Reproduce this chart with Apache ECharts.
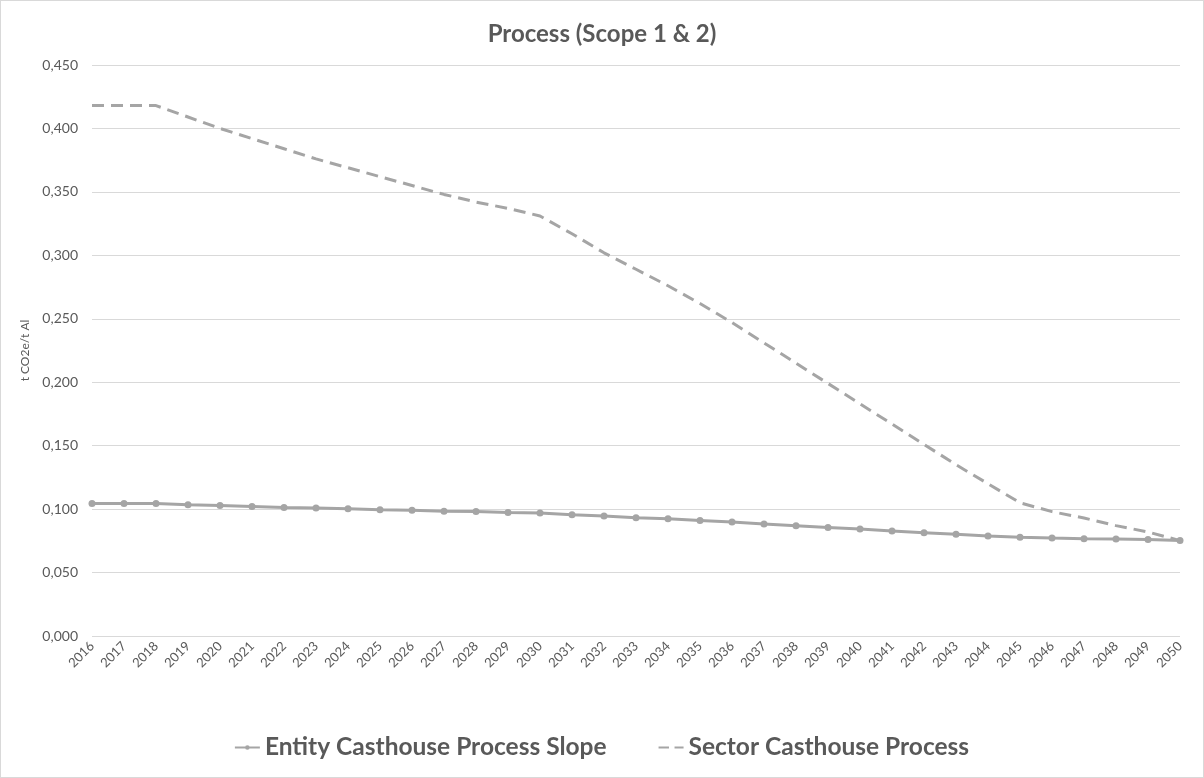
<!DOCTYPE html>
<html>
<head>
<meta charset="utf-8">
<script src="https://cdn.jsdelivr.net/npm/echarts@6/dist/echarts.min.js"></script>
<style>
  html, body { margin: 0; padding: 0; background: #fff; }
  #chart { width: 1204px; height: 778px; box-sizing: border-box; border: 1px solid #d9d9d9; }
</style>
</head>
<body>
<div id="chart"></div>
<script>
// Years on the horizontal axis
const years = [];
for (let y = 2016; y <= 2050; y++) years.push(String(y));

// Entity casthouse process intensity (t CO2e / t Al)
const entityValues = [
  0.1045, 0.1045, 0.1045, 0.1034, 0.1029, 0.1021, 0.1013, 0.1008, 0.1003, 0.0995,
  0.0992, 0.0984, 0.0982, 0.0974, 0.0969, 0.0956, 0.0945, 0.0932, 0.0924, 0.0911,
  0.0898, 0.0882, 0.0869, 0.0856, 0.0843, 0.0827, 0.0814, 0.0801, 0.0788, 0.0778,
  0.0772, 0.0767, 0.0764, 0.0760, 0.0752
];

// Sector casthouse process pathway (t CO2e / t Al)
const sectorValues = [
  0.418, 0.418, 0.418, 0.409, 0.400, 0.392, 0.384, 0.376, 0.369, 0.362,
  0.355, 0.348, 0.342, 0.337, 0.331, 0.317, 0.302, 0.289, 0.276, 0.262,
  0.247, 0.231, 0.215, 0.199, 0.183, 0.167, 0.151, 0.135, 0.120, 0.105,
  0.098, 0.093, 0.087, 0.082, 0.0752
];

const textColor = '#595959';
const seriesColor = '#a5a5a5';

// Legend keys: a line with a centred marker, and two short dashes
const entityIcon = 'path://M0,3.5h38v3h-38z M22.5,5a3.5,3.5 0 1 1 -7,0a3.5,3.5 0 1 1 7,0z';
const sectorIcon = 'path://M0,0h15v3h-15z M23,0h13v3h-13z';

const chart = echarts.init(document.getElementById('chart'), null, { renderer: 'canvas' });
chart.setOption({
  animation: false,
  backgroundColor: '#fff',
  textStyle: { fontFamily: 'Lato, "Open Sans", sans-serif' },
  title: {
    text: 'Process (Scope 1 & 2)',
    left: 'center',
    top: 16,
    textStyle: { fontFamily: 'Lato', fontSize: 24, fontWeight: 'bold', color: textColor }
  },
  legend: {
    bottom: 12,
    left: 'center',
    itemGap: 52,
    itemHeight: 7,
    textStyle: { fontFamily: 'Lato', fontSize: 24.5, fontWeight: 'bold', color: textColor },
    data: [
      { name: 'Entity Casthouse Process Slope', icon: entityIcon, itemWidth: 38, itemHeight: 7 },
      { name: 'Sector Casthouse Process', icon: sectorIcon, itemWidth: 36, itemHeight: 3 }
    ]
  },
  grid: { left: 91, right: 23, top: 64, bottom: 141, containLabel: false },
  xAxis: {
    type: 'category',
    data: years,
    boundaryGap: false,
    axisLine: { show: false },
    axisTick: { show: false },
    axisLabel: { rotate: 45, color: textColor, fontSize: 13, margin: 8, interval: 0 }
  },
  yAxis: {
    type: 'value',
    min: 0,
    max: 0.45,
    interval: 0.05,
    name: 't CO2e/t Al',
    nameLocation: 'middle',
    nameGap: 56,
    nameTextStyle: { color: textColor, fontSize: 12 },
    axisLine: { show: false },
    axisTick: { show: false },
    axisLabel: {
      color: textColor,
      fontSize: 14,
      margin: 14,
      formatter: v => v.toFixed(3).replace('.', ',')
    },
    splitLine: { lineStyle: { color: '#d9d9d9', width: 1 } }
  },
  series: [
    {
      name: 'Entity Casthouse Process Slope',
      type: 'line',
      data: entityValues,
      symbol: 'circle',
      symbolSize: 7,
      color: seriesColor,
      lineStyle: { width: 3, color: seriesColor },
      itemStyle: { color: seriesColor }
    },
    {
      name: 'Sector Casthouse Process',
      type: 'line',
      data: sectorValues,
      symbol: 'none',
      color: seriesColor,
      lineStyle: { width: 3, color: seriesColor, type: [12, 7] },
      z: 1
    }
  ]
});
</script>
</body>
</html>
